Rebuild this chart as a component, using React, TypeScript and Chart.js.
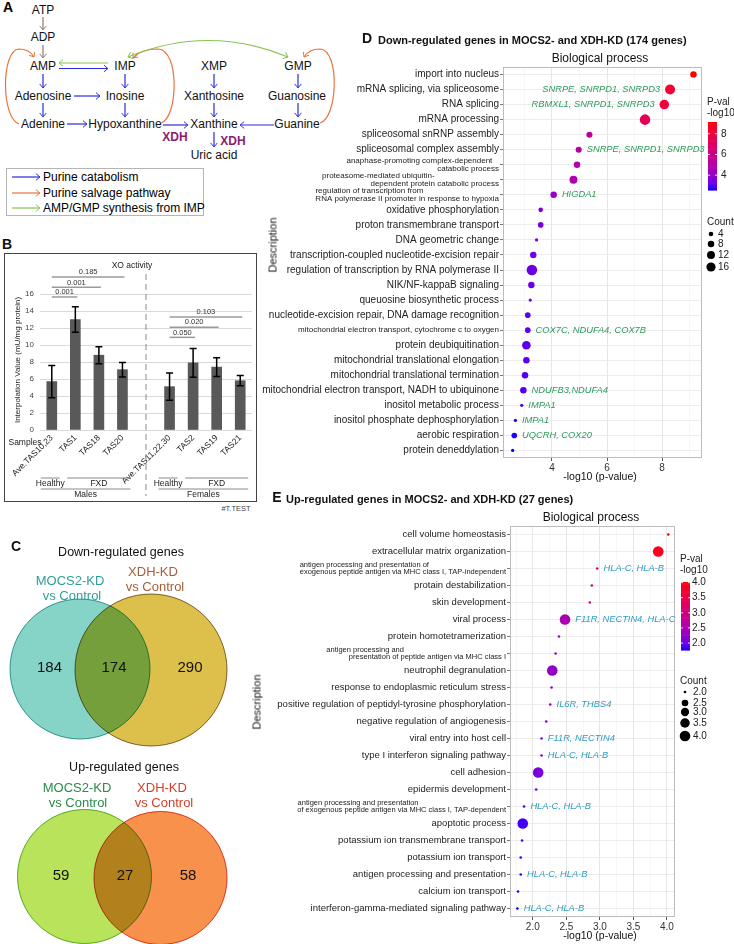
import React, { useEffect, useRef } from "react";
import { Chart, registerables } from "chart.js";
Chart.register(...registerables);

const FONT = '"Liberation Sans", Arial, Helvetica, sans-serif';
Chart.defaults.font.family = FONT;
Chart.defaults.color = "#333";

// ---------------- Panel B data ----------------
const XO_SAMPLES = ["Ave.TAS10,23", "TAS1", "TAS18", "TAS20", "", "Ave.TAS11,22,30", "TAS2", "TAS19", "TAS21"];
const XO_MEANS: (number | null)[] = [5.7, 13.0, 8.8, 7.1, null, 5.1, 7.9, 7.4, 5.8];
const XO_ERRORS: (number | null)[] = [1.9, 1.5, 1.0, 0.85, null, 1.6, 1.7, 1.1, 0.6];
const XO_PVALUES = ["0.185", "0.001", "0.001", "0.103", "0.020", "0.050"];
const XO_PAIRS = [[0, 3], [0, 2], [0, 1], [5, 8], [5, 7], [5, 6]];
const XO_BRACKET_LEVELS = [18.0, 16.8, 15.65, 13.3, 12.1, 10.9];
const XO_GROUPS = [
  { label: "Healthy", from: 0, to: 0, level: 1 },
  { label: "FXD", from: 1, to: 3, level: 1 },
  { label: "Males", from: 0, to: 3, level: 2 },
  { label: "Healthy", from: 5, to: 5, level: 1 },
  { label: "FXD", from: 6, to: 8, level: 1 },
  { label: "Females", from: 5, to: 8, level: 2 },
];

// ---------------- Panel C data ----------------
const VENN_DOWN_COUNTS = [184, 174, 290];
const VENN_UP_COUNTS = [59, 27, 58];

// ---------------- Panel D data ----------------
const D_TERMS = [
  "import into nucleus",
  "mRNA splicing, via spliceosome",
  "RNA splicing",
  "mRNA processing",
  "spliceosomal snRNP assembly",
  "spliceosomal complex assembly",
  "anaphase-promoting complex-dependent\ncatabolic process",
  "proteasome-mediated ubiquitin-\ndependent protein catabolic process",
  "regulation of transcription from\nRNA polymerase II promoter in response to hypoxia",
  "oxidative phosphorylation",
  "proton transmembrane transport",
  "DNA geometric change",
  "transcription-coupled nucleotide-excision repair",
  "regulation of transcription by RNA polymerase II",
  "NIK/NF-kappaB signaling",
  "queuosine biosynthetic process",
  "nucleotide-excision repair, DNA damage recognition",
  "mitochondrial electron transport, cytochrome c to oxygen",
  "protein deubiquitination",
  "mitochondrial translational elongation",
  "mitochondrial translational termination",
  "mitochondrial electron transport, NADH to ubiquinone",
  "inositol metabolic process",
  "inositol phosphate dephosphorylation",
  "aerobic respiration",
  "protein deneddylation",
];
const D_LOGP = [9.14, 8.29, 8.08, 7.38, 5.36, 4.97, 4.91, 4.78, 4.06, 3.59, 3.59, 3.44, 3.32, 3.27, 3.25, 3.21, 3.12, 3.12, 3.07, 3.07, 3.02, 2.96, 2.9, 2.67, 2.63, 2.57];
const D_COUNT = [8, 19, 17, 21, 7, 7, 8, 12, 8, 4, 6, 2, 8, 21, 8, 2, 6, 6, 14, 8, 8, 8, 2, 2, 6, 2];
const D_GENES = ["", "SNRPE, SNRPD1, SNRPD3", "RBMXL1, SNRPD1, SNRPD3", "", "", "SNRPE, SNRPD1, SNRPD3", "", "", "HIGDA1", "", "", "", "", "", "", "", "", "COX7C, NDUFA4, COX7B", "", "", "", "NDUFB3,NDUFA4", "IMPA1", "IMPA1", "UQCRH, COX20", ""];
const D_COUNT_BREAKS = [4, 8, 12, 16];
const D_COLOR_TICKS = [4, 6, 8];
const D_X_TICKS = [3, 4, 5, 6, 7, 8, 9];
const D_X_LABELLED = [4, 6, 8];

// ---------------- Panel E data ----------------
const E_TERMS = [
  "cell volume homeostasis",
  "extracellular matrix organization",
  "antigen processing and presentation of\nexogenous peptide antigen via MHC class I, TAP-independent",
  "protain destabilization",
  "skin development",
  "viral process",
  "protein homotetramerization",
  "antigen processing and\npresentation of peptide antigen via MHC class I",
  "neutrophil degranulation",
  "response to endoplasmic reticulum stress",
  "positive regulation of peptidyl-tyrosine phosphorylation",
  "negative regulation of angiogenesis",
  "viral entry into host cell",
  "type I interferon signaling pathway",
  "cell adhesion",
  "epidermis development",
  "antigen processing and presentation\nof exogenous peptide antigen via MHC class I, TAP-dependent",
  "apoptotic process",
  "potassium ion transmembrane transport",
  "potassium ion transport",
  "antigen processing and presentation",
  "calcium ion transport",
  "interferon-gamma-mediated signaling pathway",
];
const E_LOGP = [4.02, 3.87, 2.96, 2.88, 2.85, 2.48, 2.39, 2.34, 2.29, 2.28, 2.26, 2.2, 2.13, 2.13, 2.08, 2.05, 1.87, 1.85, 1.84, 1.82, 1.82, 1.78, 1.77];
const E_COUNT = [2, 4, 2, 2, 2, 4, 2, 2, 4, 2, 2, 2, 2, 2, 4, 2, 2, 4, 2, 2, 2, 2, 2];
const E_GENES = ["", "", "HLA-C, HLA-B", "", "", "F11R, NECTIN4, HLA-C", "", "", "", "", "IL6R, THBS4", "", "F11R, NECTIN4", "HLA-C, HLA-B", "", "", "HLA-C, HLA-B", "", "", "", "HLA-C, HLA-B", "", "HLA-C, HLA-B"];
const E_COUNT_BREAKS = [2, 2.5, 3, 3.5, 4];
const E_COLOR_TICKS = [2, 2.5, 3, 3.5, 4];
const E_X_TICKS = [1.75, 2, 2.25, 2.5, 2.75, 3, 3.25, 3.5, 3.75, 4];
const E_X_LABELLED = [2, 2.5, 3, 3.5, 4];

// ---------------- helpers ----------------
const measureCtx = document.createElement("canvas").getContext("2d") as CanvasRenderingContext2D;
function textWidth(s: string, font: string) {
  measureCtx.font = font;
  return measureCtx.measureText(s).width;
}

function srgbToLin(c: number) {
  c /= 255;
  return c <= 0.04045 ? c / 12.92 : Math.pow((c + 0.055) / 1.055, 2.4);
}
function linToSrgb(c: number) {
  const v = c <= 0.0031308 ? 12.92 * c : 1.055 * Math.pow(c, 1 / 2.4) - 0.055;
  return Math.round(Math.max(0, Math.min(1, v)) * 255);
}
function rgbToLab(rgb: number[]) {
  const [r, g, b] = rgb.map(srgbToLin);
  const X = (0.4124 * r + 0.3576 * g + 0.1805 * b) / 0.95047;
  const Y = 0.2126 * r + 0.7152 * g + 0.0722 * b;
  const Z = (0.0193 * r + 0.1192 * g + 0.9505 * b) / 1.08883;
  const f = (t: number) => (t > 0.008856 ? Math.cbrt(t) : 7.787 * t + 16 / 116);
  const fx = f(X), fy = f(Y), fz = f(Z);
  return [116 * fy - 16, 500 * (fx - fy), 200 * (fy - fz)];
}
function labToRgb(lab: number[]) {
  const [L, a, b] = lab;
  const fy = (L + 16) / 116, fx = fy + a / 500, fz = fy - b / 200;
  const inv = (t: number) => (t * t * t > 0.008856 ? t * t * t : (t - 16 / 116) / 7.787);
  const X = inv(fx) * 0.95047, Y = inv(fy), Z = inv(fz) * 1.08883;
  const r = 3.2406 * X - 1.5372 * Y - 0.4986 * Z;
  const g = -0.9689 * X + 1.8758 * Y + 0.0415 * Z;
  const bb = 0.0557 * X - 0.204 * Y + 1.057 * Z;
  return [linToSrgb(r), linToSrgb(g), linToSrgb(bb)];
}
const LAB_LOW = rgbToLab([0, 0, 255]);
const LAB_HIGH = rgbToLab([255, 0, 0]);
function gradColor(t: number) {
  t = Math.max(0, Math.min(1, t));
  const lab = LAB_LOW.map((v, i) => v + (LAB_HIGH[i] - v) * t);
  const [r, g, b] = labToRgb(lab);
  return `rgb(${r},${g},${b})`;
}

function ChartCanvas(props: { left: number; top: number; width: number; height: number; make: () => any }) {
  const ref = useRef<HTMLCanvasElement>(null);
  useEffect(() => {
    const chart = new Chart(ref.current as HTMLCanvasElement, props.make());
    return () => chart.destroy();
  }, []);
  return (
    <canvas
      ref={ref}
      width={props.width}
      height={props.height}
      style={{ position: "absolute", left: props.left, top: props.top, width: props.width, height: props.height }}
    />
  );
}

function Txt(p: {
  x: number; y: number; children: any; size?: number; weight?: number | string; color?: string;
  anchor?: "start" | "middle" | "end"; rotate?: number; italic?: boolean;
}) {
  const tx = p.anchor === "start" ? "0" : p.anchor === "end" ? "-100%" : "-50%";
  return (
    <div
      style={{
        position: "absolute", left: p.x, top: p.y, fontSize: p.size ?? 12, fontWeight: p.weight ?? 400,
        color: p.color ?? "#111", whiteSpace: "nowrap", lineHeight: 1, fontStyle: p.italic ? "italic" : "normal",
        transform: `translate(${tx}, -50%) rotate(${p.rotate ?? 0}deg)`, transformOrigin: p.anchor === "start" ? "left center" : "center",
      }}
    >
      {p.children}
    </div>
  );
}

// ---------------- Panel A (pathway diagram) ----------------
function PanelA() {
  const blue = "#2b2bdc", orange = "#e8743c", green = "#88c452", gray = "#8c7b70";
  const node = (x: number, y: number, t: string) => (
    <text x={x} y={y} textAnchor="middle" dominantBaseline="central" fontSize={12} fill="#111">{t}</text>
  );
  const mk = (id: string, c: string) => (
    <marker id={id} viewBox="0 0 6 10" refX="5.6" refY="5" markerWidth="5" markerHeight="8" orient="auto-start-reverse" markerUnits="userSpaceOnUse">
      <path d="M0.5,0.8 L5.5,5 L0.5,9.2" fill="none" stroke={c} strokeWidth="1.2" />
    </marker>
  );
  const arr = (x1: number, y1: number, x2: number, y2: number, c: string, id: string) => (
    <line x1={x1} y1={y1} x2={x2} y2={y2} stroke={c} strokeWidth={1.2} markerEnd={`url(#${id})`} />
  );
  return (
    <svg width={345} height={222} style={{ position: "absolute", left: 0, top: 0, fontFamily: FONT }}>
      <defs>
        {mk("ab", blue)}
        {mk("ao", orange)}
        {mk("ag", green)}
        {mk("ay", gray)}
      </defs>
      <text x={3} y={12} fontSize={14} fontWeight="bold">A</text>
      {node(43, 10, "ATP")}
      {node(43, 37, "ADP")}
      {node(43, 66, "AMP")}
      {node(125, 66, "IMP")}
      {node(214, 66, "XMP")}
      {node(298, 66, "GMP")}
      {node(43, 96, "Adenosine")}
      {node(125, 96, "Inosine")}
      {node(214, 96, "Xanthosine")}
      {node(297, 96, "Guanosine")}
      {node(43, 124, "Adenine")}
      {node(125, 124, "Hypoxanthine")}
      {node(214, 124, "Xanthine")}
      {node(297, 124, "Guanine")}
      {node(214, 155, "Uric acid")}
      <text x={175} y={137} textAnchor="middle" dominantBaseline="central" fontSize={12} fontWeight="bold" fill="#8e1c6e">XDH</text>
      <text x={233} y={141} textAnchor="middle" dominantBaseline="central" fontSize={12} fontWeight="bold" fill="#8e1c6e">XDH</text>
      {arr(43, 17, 43, 30, gray, "ay")}
      {arr(43, 45, 43, 58, gray, "ay")}
      {arr(43, 74, 43, 88, blue, "ab")}
      {arr(43, 103, 43, 117, blue, "ab")}
      {arr(125, 74, 125, 88, blue, "ab")}
      {arr(125, 103, 125, 117, blue, "ab")}
      {arr(214, 74, 214, 88, blue, "ab")}
      {arr(214, 103, 214, 117, blue, "ab")}
      {arr(298, 74, 298, 88, blue, "ab")}
      {arr(298, 103, 298, 117, blue, "ab")}
      {arr(214, 132, 214, 147, blue, "ab")}
      {arr(59, 68.5, 108, 68.5, blue, "ab")}
      {arr(108, 63, 59, 63, green, "ag")}
      {arr(74, 96, 100, 96, blue, "ab")}
      {arr(67, 124, 87, 124, blue, "ab")}
      {arr(163, 125, 188, 125, blue, "ab")}
      {arr(274, 125, 240, 125, blue, "ab")}
      <path d="M19,124 C1,118 1,50 19,49 C27,49 31,52 34,57" fill="none" stroke={orange} strokeWidth={1.2} markerEnd="url(#ao)" />
      <path d="M161,123 C178,118 180,50 158,49 C146,49 138,52 133,58" fill="none" stroke={orange} strokeWidth={1.2} markerEnd="url(#ao)" />
      <path d="M320,123 C338,118 340,50 320,49 C311,49 307,52 304,57" fill="none" stroke={orange} strokeWidth={1.2} markerEnd="url(#ao)" />
      <path d="M128,57 Q208,24 288,57" fill="none" stroke={green} strokeWidth={1.2} markerStart="url(#ag)" markerEnd="url(#ag)" />
      <rect x={6.5} y={168.5} width={197} height={47} fill="none" stroke="#b5b5b5" strokeWidth={1} />
      {arr(12, 177, 40, 177, blue, "ab")}
      {arr(12, 193, 40, 193, orange, "ao")}
      {arr(12, 208, 40, 208, green, "ag")}
      <text x={43} y={177} dominantBaseline="central" fontSize={12}>Purine catabolism</text>
      <text x={43} y={193} dominantBaseline="central" fontSize={12}>Purine salvage pathway</text>
      <text x={43} y={208} dominantBaseline="central" fontSize={12}>AMP/GMP synthesis from IMP</text>
    </svg>
  );
}

// ---------------- Panel B (bar chart) ----------------
function makeXO() {
  const decor = {
    id: "xoDecor",
    afterDatasetsDraw(chart: any) {
      const { ctx, scales } = chart;
      const y = scales.y;
      const meta = chart.getDatasetMeta(0);
      ctx.save();
      ctx.strokeStyle = "#000";
      ctx.lineWidth = 1.5;
      XO_MEANS.forEach((m, i) => {
        const e = XO_ERRORS[i];
        if (m == null || e == null) return;
        const x = meta.data[i].x;
        const yt = y.getPixelForValue(m + e), yb = y.getPixelForValue(m - e);
        ctx.beginPath();
        ctx.moveTo(x, yt); ctx.lineTo(x, yb);
        ctx.moveTo(x - 3.5, yt); ctx.lineTo(x + 3.5, yt);
        ctx.moveTo(x - 3.5, yb); ctx.lineTo(x + 3.5, yb);
        ctx.stroke();
      });
      ctx.restore();
    },
    afterDraw(chart: any) {
      const { ctx, scales } = chart;
      const x = scales.x, y = scales.y;
      ctx.save();
      XO_PAIRS.forEach(([a, b], i) => {
        const x1 = x.getPixelForValue(a), x2 = x.getPixelForValue(b) + 2;
        const yy = y.getPixelForValue(XO_BRACKET_LEVELS[i]);
        ctx.strokeStyle = "#9a9a9a";
        ctx.lineWidth = 1.5;
        ctx.beginPath(); ctx.moveTo(x1, yy); ctx.lineTo(x2, yy); ctx.stroke();
        ctx.fillStyle = "#333";
        ctx.font = `7.5px ${FONT}`;
        ctx.textAlign = "center";
        ctx.textBaseline = "bottom";
        ctx.fillText(XO_PVALUES[i], (x1 + x2) / 2, yy - 1);
      });
      const xs = x.getPixelForValue(4);
      ctx.strokeStyle = "#8a8a8a";
      ctx.lineWidth = 1;
      ctx.setLineDash([6, 4]);
      ctx.beginPath(); ctx.moveTo(xs, 20); ctx.lineTo(xs, 242); ctx.stroke();
      ctx.setLineDash([]);
      XO_GROUPS.forEach((g) => {
        const single = g.from === g.to;
        const l = x.getPixelForValue(g.from) - (g.level === 2 || single ? 11 : 8);
        const r = x.getPixelForValue(g.to) + 8;
        const ly = g.level === 1 ? 224 : 235;
        const ty = g.level === 1 ? 230 : 241;
        ctx.strokeStyle = "#8a8a8a";
        ctx.lineWidth = 1;
        ctx.beginPath(); ctx.moveTo(l, ly); ctx.lineTo(r, ly); ctx.stroke();
        ctx.fillStyle = "#222";
        ctx.font = `8.5px ${FONT}`;
        ctx.textAlign = "center";
        ctx.textBaseline = "middle";
        ctx.fillText(g.label, (l + r) / 2, ty);
      });
      ctx.restore();
    },
  };
  return {
    type: "bar",
    data: {
      labels: XO_SAMPLES,
      datasets: [{ data: XO_MEANS, backgroundColor: "#595959", barThickness: 10 }],
    },
    options: {
      responsive: false,
      animation: false,
      events: [],
      layout: { padding: { top: 40, right: 4, left: 0, bottom: 0 } },
      plugins: { legend: { display: false }, tooltip: { enabled: false } },
      scales: {
        x: {
          grid: { display: false, drawTicks: false },
          border: { display: false },
          ticks: { autoSkip: false, minRotation: 45, maxRotation: 45, font: { size: 8.5 }, color: "#222", padding: 3 },
          afterFit: (s: any) => { s.height = 71; },
        },
        y: {
          min: 0, max: 16,
          ticks: { stepSize: 2, font: { size: 8 }, color: "#444", padding: 6 },
          grid: { color: "#d9d9d9", drawTicks: false },
          border: { display: false },
          afterFit: (s: any) => { s.width = 35; },
        },
      },
    },
    plugins: [decor],
  };
}

function PanelB() {
  return (
    <>
      <Txt x={7} y={244} size={14} weight="bold">B</Txt>
      <div style={{ position: "absolute", left: 4, top: 253, width: 253, height: 249, border: "1px solid #444", boxSizing: "border-box" }} />
      <ChartCanvas left={5} top={254} width={251} height={247} make={makeXO} />
      <Txt x={132} y={265} size={8.5} color="#222">XO activity</Txt>
      <Txt x={18} y={360} size={8} rotate={-90} color="#222">Interpolation Value (mU/mg protein)</Txt>
      <Txt x={25} y={442} size={8.5} color="#222">Samples</Txt>
      <Txt x={236} y={509} size={7.5} color="#444">#T.TEST</Txt>
    </>
  );
}

// ---------------- Panel C (Venn diagrams) ----------------
const VENN_LAYOUT = {
  down: { circles: [{ x: 80, y: 129, r: 70 }, { x: 151, y: 130, r: 76 }], labels: [{ x: 49.5, y: 128 }, { x: 114, y: 128 }, { x: 190, y: 128 }] },
  up: { circles: [{ x: 84.5, y: 336.5, r: 67 }, { x: 160.5, y: 338, r: 66.5 }], labels: [{ x: 61, y: 336 }, { x: 125, y: 336 }, { x: 188, y: 336 }] },
};
function makeVenn() {
  const blend = {
    id: "vennBlend",
    beforeDatasetsDraw(chart: any) { chart.ctx.save(); chart.ctx.globalCompositeOperation = "multiply"; },
    afterDatasetsDraw(chart: any) {
      const { ctx, scales } = chart;
      ctx.restore();
      ctx.save();
      ctx.fillStyle = "#111";
      ctx.font = `15px ${FONT}`;
      ctx.textAlign = "center";
      ctx.textBaseline = "middle";
      const put = (counts: number[], pos: { x: number; y: number }[]) =>
        counts.forEach((c, i) => ctx.fillText(String(c), scales.x.getPixelForValue(pos[i].x), scales.y.getPixelForValue(pos[i].y)));
      put(VENN_DOWN_COUNTS, VENN_LAYOUT.down.labels);
      put(VENN_UP_COUNTS, VENN_LAYOUT.up.labels);
      ctx.restore();
    },
  };
  const ds = (c: { x: number; y: number; r: number }, fill: string, border: string) => ({
    data: [c], backgroundColor: fill, borderColor: border, borderWidth: 1, clip: false,
  });
  return {
    type: "bubble",
    data: {
      datasets: [
        ds(VENN_LAYOUT.down.circles[0], "#86d3c8", "#3fa79f"),
        ds(VENN_LAYOUT.down.circles[1], "#dcc04b", "#8a6b3f"),
        ds(VENN_LAYOUT.up.circles[0], "#b9e35b", "#6ab43e"),
        ds(VENN_LAYOUT.up.circles[1], "#f7914b", "#e0463a"),
      ],
    },
    options: {
      responsive: false, animation: false, events: [],
      layout: { padding: 0, autoPadding: false },
      plugins: { legend: { display: false }, tooltip: { enabled: false } },
      scales: {
        x: { type: "linear", display: false, min: 0, max: 250 },
        y: { type: "linear", display: false, min: 0, max: 404, reverse: true },
      },
    },
    plugins: [blend],
  };
}
function PanelC() {
  return (
    <>
      <Txt x={16} y={546} size={14} weight="bold">C</Txt>
      <ChartCanvas left={0} top={540} width={250} height={404} make={makeVenn} />
      <Txt x={121} y={552} size={12.5}>Down-regulated genes</Txt>
      <Txt x={70} y={580} size={13} color="#2f9e9a">MOCS2-KD</Txt>
      <Txt x={72} y={595} size={13} color="#2f9e9a">vs Control</Txt>
      <Txt x={153} y={571} size={13} color="#a35f3a">XDH-KD</Txt>
      <Txt x={155} y={586} size={13} color="#a35f3a">vs Control</Txt>
      <Txt x={124} y={767} size={12.5}>Up-regulated genes</Txt>
      <Txt x={77} y={787} size={13} color="#2b8a4a">MOCS2-KD</Txt>
      <Txt x={78} y={802} size={13} color="#2b8a4a">vs Control</Txt>
      <Txt x={162} y={787} size={13} color="#d2412c">XDH-KD</Txt>
      <Txt x={164} y={802} size={13} color="#d2412c">vs Control</Txt>
    </>
  );
}

// ---------------- Panels D and E (bubble charts) ----------------
type LineShift = { shift?: number; leftAlign?: number };
function bubbleConfig(p: {
  terms: string[]; logp: number[]; count: number[]; genes: string[]; geneLeft: number[]; geneColor: string;
  radius: (c: number) => number; xMin: number; xMax: number; xTicks: number[]; xLabelled: number[]; xFmt: (v: number) => string;
  labelSize: number; smallSize: number; smallIdx: number[]; shifts: Record<number, LineShift>;
  padding: any; yWidth: number; colorTicks: number[]; colorFmt: (v: number) => string; countBreaks: number[]; countFmt: (v: number) => string;
  legend: { x: number; cbY0: number; cbY1: number; pval: number; countY: number; dotDx: number; labDx: number; cbLabDx: number; dotYs: number[] };
}) {
  const lo = Math.min(...p.logp), hi = Math.max(...p.logp);
  const col = (v: number) => gradColor((v - lo) / (hi - lo));
  const isSmall = (i: number) => p.smallIdx.includes(i) || p.terms[i].includes("\n");
  const labelCb = (_v: any, idx: number) => {
    const lines = p.terms[idx].split("\n");
    if (lines.length < 2) return lines[0];
    const font = `${p.smallSize}px ${FONT}`;
    const spec = p.shifts[idx] || {};
    let shift = spec.shift ?? 0;
    if (spec.leftAlign !== undefined) shift = textWidth(lines[1], font) - textWidth(lines[0], font) + spec.leftAlign;
    const n = Math.max(0, Math.round(shift / textWidth(" ", font)));
    return [lines[0] + " ".repeat(n), ...lines.slice(1)];
  };
  const isMajor = (v: number) => p.xLabelled.some((m) => Math.abs(m - v) < 1e-6);
  const decor = {
    id: "bubbleDecor",
    afterDatasetsDraw(chart: any) {
      const { ctx, chartArea: ca } = chart;
      const meta = chart.getDatasetMeta(0);
      ctx.save();
      ctx.strokeStyle = "#bcbcbc";
      ctx.lineWidth = 1;
      ctx.strokeRect(ca.left + 0.5, ca.top + 0.5, ca.right - ca.left - 1, ca.bottom - ca.top - 1);
      ctx.font = `italic 9.3px ${FONT}`;
      ctx.fillStyle = p.geneColor;
      ctx.textBaseline = "middle";
      p.genes.forEach((g, i) => {
        if (!g) return;
        const pt = meta.data[i];
        const r = p.radius(p.count[i]);
        if (p.geneLeft.includes(i)) {
          ctx.textAlign = "right";
          ctx.fillText(g, pt.x - r - 5, pt.y);
        } else {
          ctx.textAlign = "left";
          ctx.fillText(g, pt.x + r + 5, pt.y);
        }
      });
      const L = p.legend;
      ctx.fillStyle = "#222";
      ctx.font = `10px ${FONT}`;
      ctx.textAlign = "left";
      ctx.fillText("P-val", L.x, L.pval);
      ctx.fillText("-log10", L.x, L.pval + 11);
      const steps = 60;
      const h = L.cbY1 - L.cbY0;
      for (let s = 0; s < steps; s++) {
        const v = hi - ((s + 0.5) / steps) * (hi - lo);
        ctx.fillStyle = col(v);
        ctx.fillRect(L.x + 1, L.cbY0 + (s * h) / steps, 9, h / steps + 0.6);
      }
      const vy = (v: number) => L.cbY1 - ((v - lo) / (hi - lo)) * h;
      ctx.strokeStyle = "#fff";
      ctx.lineWidth = 0.8;
      p.colorTicks.forEach((v) => {
        const yy = vy(v);
        ctx.beginPath(); ctx.moveTo(L.x + 1, yy); ctx.lineTo(L.x + 3, yy); ctx.moveTo(L.x + 8, yy); ctx.lineTo(L.x + 10, yy); ctx.stroke();
        ctx.fillStyle = "#222";
        ctx.fillText(p.colorFmt(v), L.x + L.cbLabDx, yy);
      });
      ctx.fillStyle = "#222";
      ctx.fillText("Count", L.x, L.countY);
      p.countBreaks.forEach((c, i) => {
        const yy = L.dotYs[i];
        ctx.fillStyle = "#000";
        ctx.beginPath(); ctx.arc(L.x + L.dotDx, yy, p.radius(c), 0, Math.PI * 2); ctx.fill();
        ctx.fillStyle = "#222";
        ctx.fillText(p.countFmt(c), L.x + L.labDx, yy);
      });
      ctx.restore();
    },
  };
  return {
    type: "bubble",
    data: {
      datasets: [{
        data: p.logp.map((v, i) => ({ x: v, y: i, r: p.radius(p.count[i]) })),
        backgroundColor: p.logp.map(col),
        borderWidth: 0,
        clip: false,
      }],
    },
    options: {
      responsive: false, animation: false, events: [],
      layout: { padding: p.padding, autoPadding: false },
      plugins: { legend: { display: false }, tooltip: { enabled: false } },
      scales: {
        x: {
          type: "linear", min: p.xMin, max: p.xMax, bounds: "data",
          afterBuildTicks: (s: any) => { s.ticks = p.xTicks.map((v) => ({ value: v })); },
          ticks: { autoSkip: false, maxRotation: 0, minRotation: 0, font: { size: 10 }, color: "#333", padding: 1, callback: (v: number) => (isMajor(v) ? p.xFmt(v) : "") },
          grid: {
            color: (c: any) => (c.tick && isMajor(c.tick.value) ? "#e6e6e6" : "#f3f3f3"),
            lineWidth: (c: any) => (c.tick && isMajor(c.tick.value) ? 1 : 0.7),
            tickColor: (c: any) => (c.tick && isMajor(c.tick.value) ? "#555" : "rgba(0,0,0,0)"),
            tickLength: 3,
          },
          border: { display: false },
          afterFit: (s: any) => { s.height = 20; },
        },
        y: {
          type: "category", labels: p.terms, offset: true,
          ticks: {
            autoSkip: false, color: "#222", padding: 1,
            font: (c: any) => ({ size: isSmall(c.index) ? p.smallSize : p.labelSize, lineHeight: 1.0 }),
            callback: labelCb,
          },
          grid: { color: "#e9e9e9", offset: false, tickLength: 3, tickColor: "#555", lineWidth: 0.8 },
          border: { display: false },
          afterFit: (s: any) => { s.width = p.yWidth; },
        },
      },
    },
    plugins: [decor],
  };
}

function makeD() {
  return bubbleConfig({
    terms: D_TERMS, logp: D_LOGP, count: D_COUNT, genes: D_GENES, geneLeft: [1, 2], geneColor: "#2e9a5c",
    radius: (c) => 1.15 * Math.sqrt(c), xMin: 2.22, xMax: 9.45, xTicks: D_X_TICKS, xLabelled: D_X_LABELLED, xFmt: (v) => String(v),
    labelSize: 10, smallSize: 8, smallIdx: [17], shifts: { 6: { shift: 7 }, 7: { shift: 65 }, 8: { leftAlign: 0 } },
    padding: { top: 47, right: 32, bottom: 7, left: 0 }, yWidth: 245,
    colorTicks: D_COLOR_TICKS, colorFmt: (v) => String(v), countBreaks: D_COUNT_BREAKS, countFmt: (v) => String(v),
    legend: { x: 449, cbY0: 102, cbY1: 170, pval: 82, countY: 202, dotDx: 4, labDx: 11, cbLabDx: 14, dotYs: [214, 224, 235, 247] },
  });
}
function makeE() {
  return bubbleConfig({
    terms: E_TERMS, logp: E_LOGP, count: E_COUNT, genes: E_GENES, geneLeft: [], geneColor: "#2f9cc0",
    radius: (c) => 1.3 + 4 * Math.sqrt((c - 2) / 2), xMin: 1.66, xMax: 4.12, xTicks: E_X_TICKS, xLabelled: E_X_LABELLED, xFmt: (v) => v.toFixed(1),
    labelSize: 9.5, smallSize: 7.5, smallIdx: [], shifts: { 2: { leftAlign: 0 }, 7: { leftAlign: 23 }, 16: { leftAlign: 0 } },
    padding: { top: 46, right: 59, bottom: 7, left: 0 }, yWidth: 265,
    colorTicks: E_COLOR_TICKS, colorFmt: (v) => v.toFixed(1), countBreaks: E_COUNT_BREAKS, countFmt: (v) => v.toFixed(1),
    legend: { x: 435, cbY0: 102, cbY1: 170, pval: 79, countY: 201, dotDx: 5, labDx: 13, cbLabDx: 12, dotYs: [212, 223, 232, 243, 256] },
  });
}

function PanelD() {
  return (
    <>
      <ChartCanvas left={258} top={20} width={476} height={465} make={makeD} />
      <Txt x={367} y={38} size={14} weight="bold">D</Txt>
      <Txt x={378} y={40} size={11} weight="bold" anchor="start">Down-regulated genes in MOCS2- and XDH-KD (174 genes)</Txt>
      <Txt x={600} y={58} size={12}>Biological process</Txt>
      <Txt x={273} y={245} size={11} rotate={-90}>Description</Txt>
      <Txt x={600} y={476} size={10.5}>-log10 (p-value)</Txt>
    </>
  );
}
function PanelE() {
  return (
    <>
      <ChartCanvas left={245} top={480} width={489} height={464} make={makeE} />
      <Txt x={277} y={497} size={14} weight="bold">E</Txt>
      <Txt x={286} y={499} size={11} weight="bold" anchor="start">Up-regulated genes in MOCS2- and XDH-KD (27 genes)</Txt>
      <Txt x={591} y={517} size={12}>Biological process</Txt>
      <Txt x={257} y={702} size={11} rotate={-90}>Description</Txt>
      <Txt x={600} y={935} size={10.5}>-log10 (p-value)</Txt>
    </>
  );
}

export default function App() {
  return (
    <div style={{ position: "absolute", left: 0, top: 0, width: 734, height: 944, overflow: "hidden", background: "#fff", fontFamily: FONT }}>
      <PanelA />
      <PanelB />
      <PanelC />
      <PanelE />
      <PanelD />
    </div>
  );
}
